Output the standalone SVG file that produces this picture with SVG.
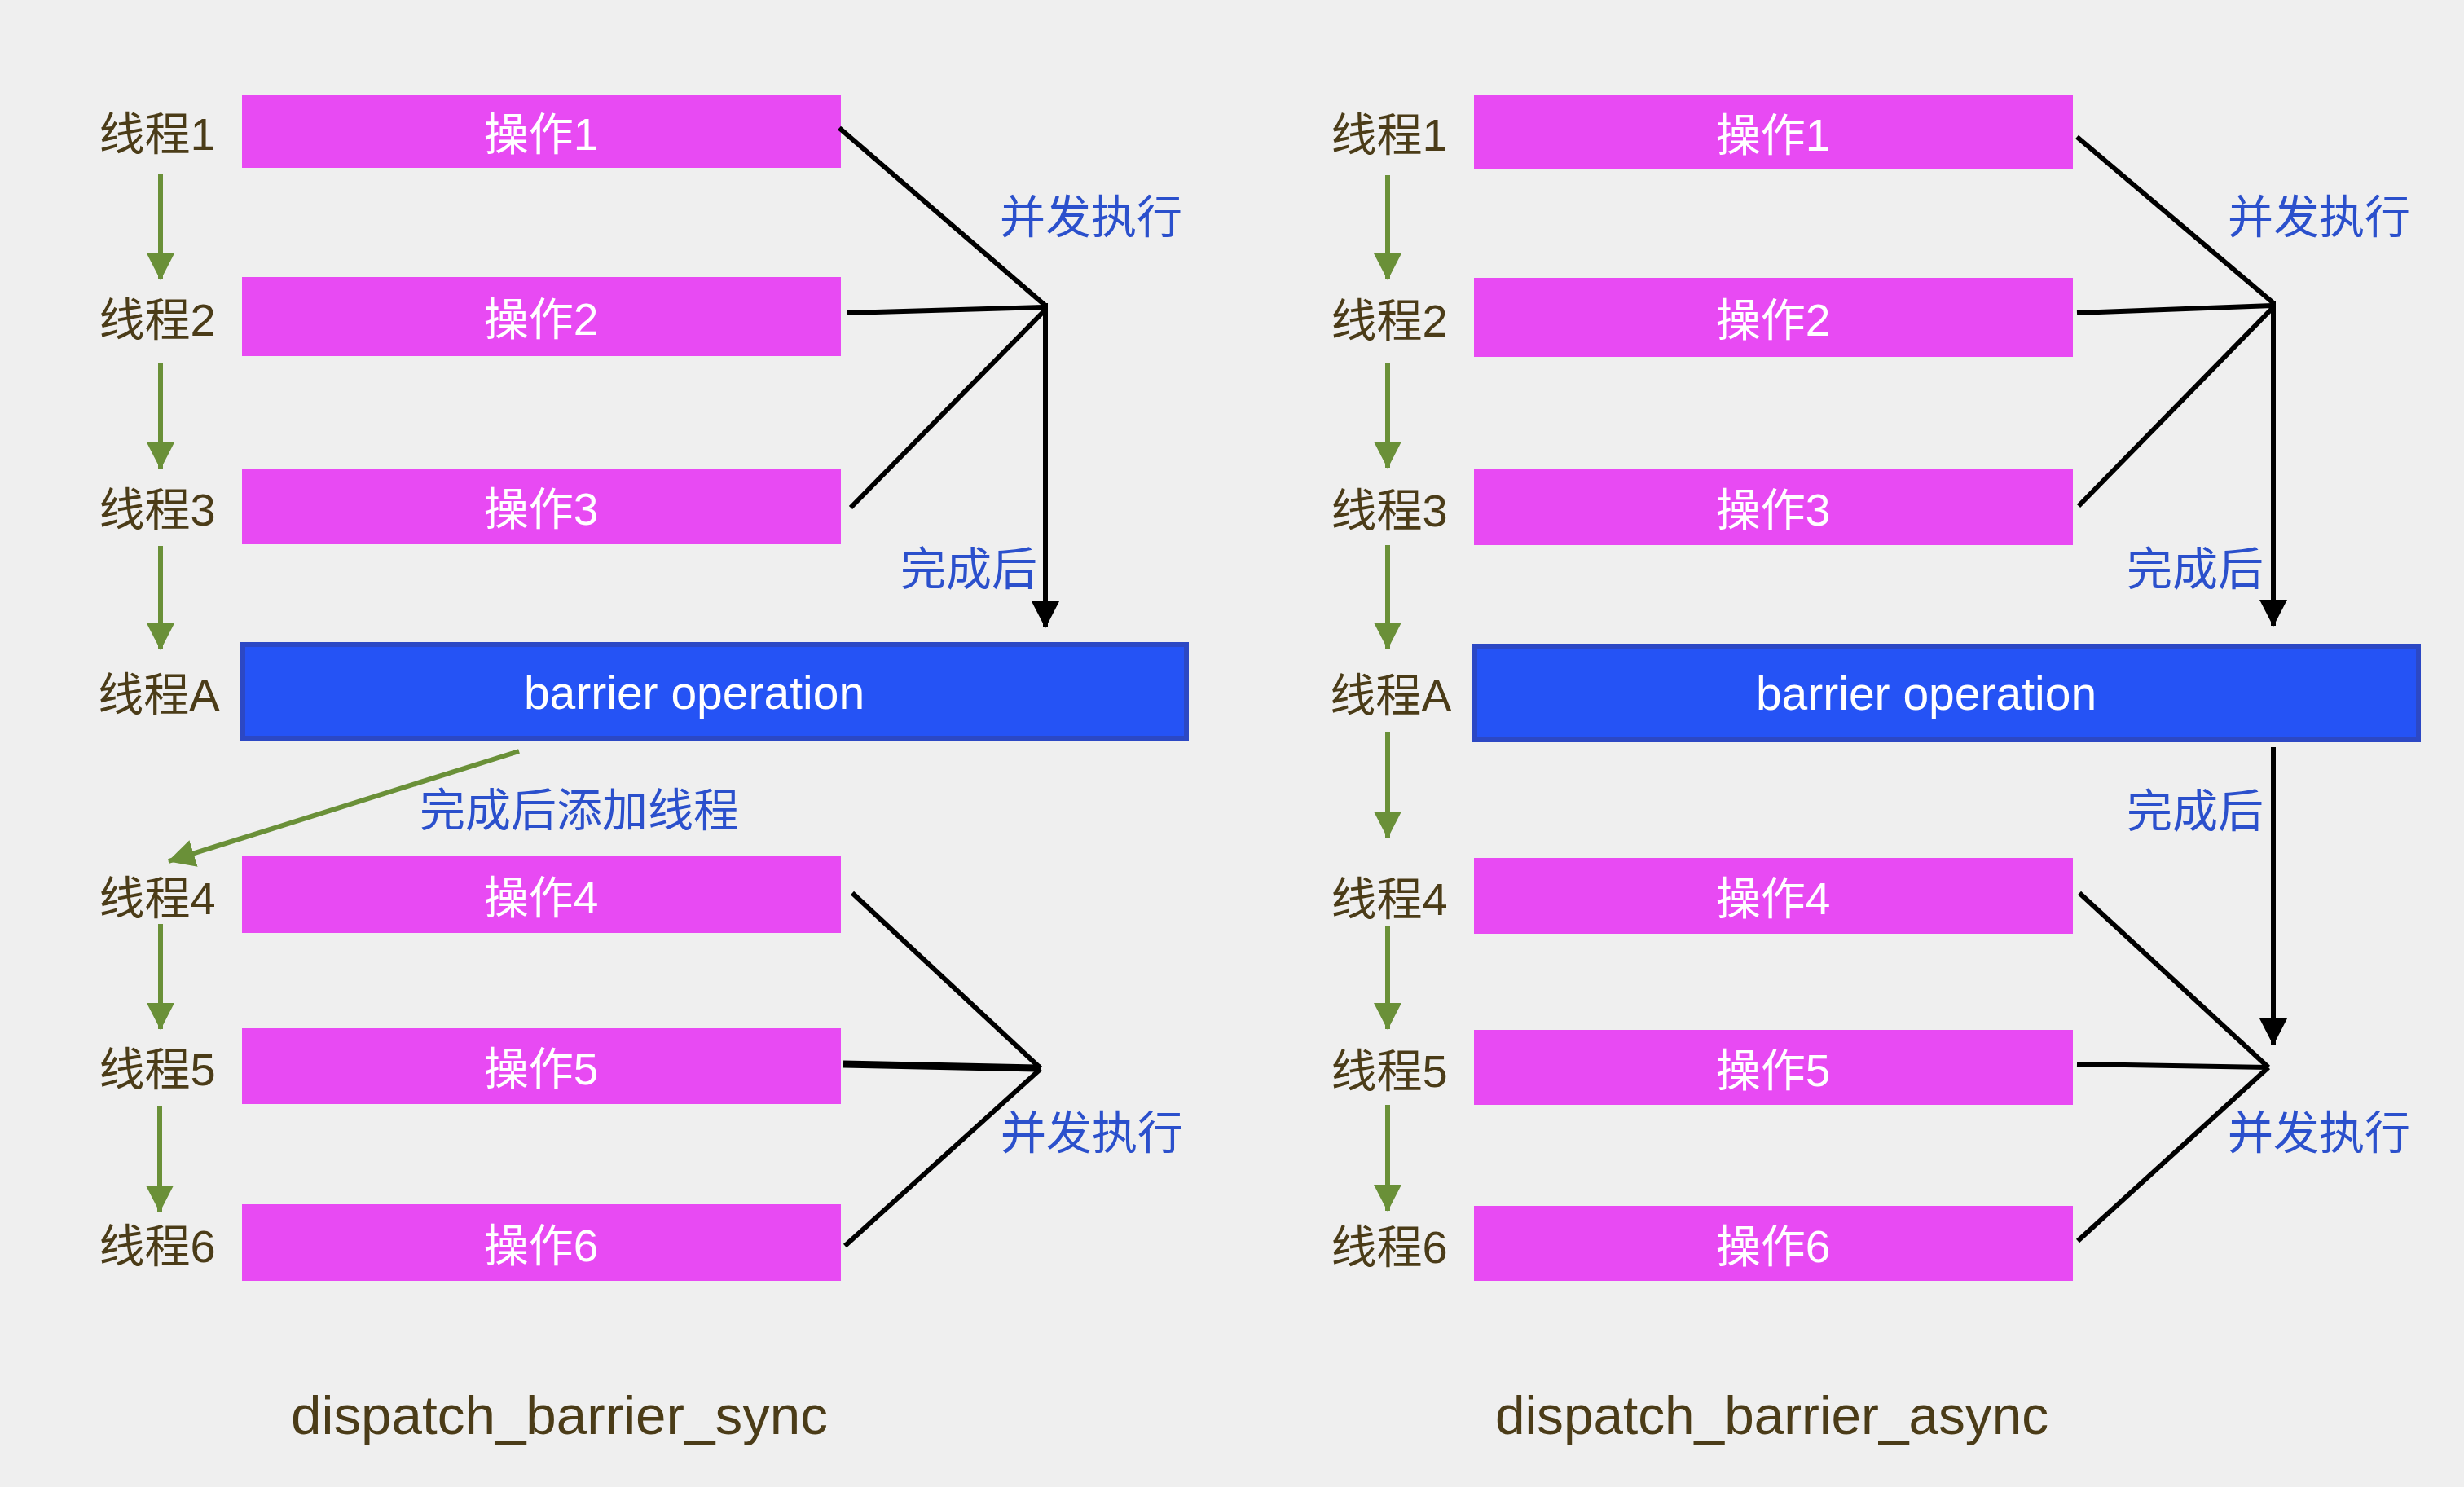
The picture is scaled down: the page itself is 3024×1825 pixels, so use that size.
<svg xmlns="http://www.w3.org/2000/svg" width="3024" height="1825" viewBox="0 0 3024 1825">
<style>
.bg{fill:#efefef}
.op{fill:#e84af3}
.bar{fill:#2553f5;stroke:#2c48c4;stroke-width:6}
.th{font-family:"Liberation Sans","Noto Sans CJK SC",sans-serif;font-size:56px;fill:#4b3c18;text-anchor:middle;dominant-baseline:central}
.opt{font-family:"Liberation Sans","Noto Sans CJK SC",sans-serif;font-size:55px;fill:#ffffff;text-anchor:middle;dominant-baseline:central}
.bt{font-family:"Liberation Sans",Arial,sans-serif;font-size:57px;fill:#ffffff;text-anchor:middle}
.lbl{font-family:"Noto Sans CJK SC","Noto Sans",sans-serif;font-size:56px;fill:#2b50cc;text-anchor:middle;dominant-baseline:central}
.title{font-family:"Liberation Sans",Arial,sans-serif;font-size:66px;fill:#4b3c18}
.g{stroke:#6a9038;stroke-width:6;fill:none}
.k{stroke:#000;stroke-width:6;fill:none;stroke-linecap:butt}
.gh{fill:#6a9038}
.kh{fill:#000}
</style>
<defs>
<marker id="ga" markerUnits="userSpaceOnUse" markerWidth="34" markerHeight="34" viewBox="0 0 34 34" refX="32" refY="17" orient="auto">
<path d="M0,0 L33,17 L0,34 Z" class="gh"/>
</marker>
<marker id="ka" markerUnits="userSpaceOnUse" markerWidth="34" markerHeight="34" viewBox="0 0 34 34" refX="32" refY="17" orient="auto">
<path d="M0,0 L33,17 L0,34 Z" class="kh"/>
</marker>
</defs>
<rect class="bg" x="0" y="0" width="3024" height="1825"/>

<!-- Left panel: dispatch_barrier_sync -->
<g id="L-t1"><text class="th" x="193" y="164">线程1</text></g>
<g id="L-t2"><text class="th" x="193" y="392">线程2</text></g>
<g id="L-t3"><text class="th" x="193" y="625">线程3</text></g>
<g id="L-tA"><text class="th" x="195" y="852">线程A</text></g>
<g id="L-t4"><text class="th" x="193" y="1102">线程4</text></g>
<g id="L-t5"><text class="th" x="193" y="1312">线程5</text></g>
<g id="L-t6"><text class="th" x="193" y="1529">线程6</text></g>

<g id="L-op1"><rect class="op" x="297" y="116" width="735" height="90"/><text class="opt" x="664" y="165">操作1</text></g>
<g id="L-op2"><rect class="op" x="297" y="340" width="735" height="97"/><text class="opt" x="664" y="392">操作2</text></g>
<g id="L-op3"><rect class="op" x="297" y="575" width="735" height="93"/><text class="opt" x="664" y="625">操作3</text></g>
<g id="L-barrier"><rect class="bar" x="298" y="791" width="1158" height="115"/><text class="bt" x="852" y="870">barrier operation</text></g>
<g id="L-op4"><rect class="op" x="297" y="1051" width="735" height="94"/><text class="opt" x="664" y="1102">操作4</text></g>
<g id="L-op5"><rect class="op" x="297" y="1262" width="735" height="93"/><text class="opt" x="664" y="1312">操作5</text></g>
<g id="L-op6"><rect class="op" x="297" y="1478" width="735" height="94"/><text class="opt" x="664" y="1529">操作6</text></g>

<g id="L-labels">
<text class="lbl" x="1339" y="261">并发执行</text>
<text class="lbl" x="1189" y="693">完成后</text>
<text class="lbl" x="711" y="989">完成后添加线程</text>
<text class="lbl" x="1340" y="1385">并发执行</text>
</g>
<g id="L-title"><text class="title" x="357" y="1760" textLength="659" lengthAdjust="spacingAndGlyphs">dispatch_barrier_sync</text></g>

<!-- Right panel: dispatch_barrier_async -->
<g id="R-t1"><text class="th" x="1705" y="165">线程1</text></g>
<g id="R-t2"><text class="th" x="1705" y="393">线程2</text></g>
<g id="R-t3"><text class="th" x="1705" y="626">线程3</text></g>
<g id="R-tA"><text class="th" x="1707" y="853">线程A</text></g>
<g id="R-t4"><text class="th" x="1705" y="1103">线程4</text></g>
<g id="R-t5"><text class="th" x="1705" y="1314">线程5</text></g>
<g id="R-t6"><text class="th" x="1705" y="1530">线程6</text></g>

<g id="R-op1"><rect class="op" x="1809" y="117" width="735" height="90"/><text class="opt" x="2176" y="166">操作1</text></g>
<g id="R-op2"><rect class="op" x="1809" y="341" width="735" height="97"/><text class="opt" x="2176" y="393">操作2</text></g>
<g id="R-op3"><rect class="op" x="1809" y="576" width="735" height="93"/><text class="opt" x="2176" y="626">操作3</text></g>
<g id="R-barrier"><rect class="bar" x="1810" y="793" width="1158" height="115"/><text class="bt" x="2364" y="871">barrier operation</text></g>
<g id="R-op4"><rect class="op" x="1809" y="1053" width="735" height="93"/><text class="opt" x="2176" y="1103">操作4</text></g>
<g id="R-op5"><rect class="op" x="1809" y="1264" width="735" height="92"/><text class="opt" x="2176" y="1314">操作5</text></g>
<g id="R-op6"><rect class="op" x="1809" y="1480" width="735" height="92"/><text class="opt" x="2176" y="1530">操作6</text></g>

<g id="R-labels">
<text class="lbl" x="2846" y="261">并发执行</text>
<text class="lbl" x="2694" y="693">完成后</text>
<text class="lbl" x="2694" y="990">完成后</text>
<text class="lbl" x="2846" y="1385">并发执行</text>
</g>
<g id="R-title"><text class="title" x="1835" y="1760" textLength="679" lengthAdjust="spacingAndGlyphs">dispatch_barrier_async</text></g>

<!-- Connectors -->
<g id="connectors">
<!-- left green thread flow -->
<line class="g" x1="197" y1="214" x2="197" y2="343" marker-end="url(#ga)"/>
<line class="g" x1="197" y1="445" x2="197" y2="575" marker-end="url(#ga)"/>
<line class="g" x1="197" y1="670" x2="197" y2="797" marker-end="url(#ga)"/>
<line class="g" x1="637" y1="922" x2="207" y2="1057" marker-end="url(#ga)"/>
<line class="g" x1="197" y1="1134" x2="197" y2="1263" marker-end="url(#ga)"/>
<line class="g" x1="196" y1="1357" x2="196" y2="1487" marker-end="url(#ga)"/>
<!-- left black -->
<line class="k" x1="1030" y1="157" x2="1283" y2="375"/>
<line class="k" x1="1040" y1="384" x2="1283" y2="377"/>
<line class="k" x1="1044" y1="623" x2="1283" y2="380"/>
<line class="k" x1="1283" y1="372" x2="1283" y2="770" marker-end="url(#ka)"/>
<line class="k" x1="1046" y1="1096" x2="1277" y2="1311"/>
<line class="k" x1="1035" y1="1306" x2="1277" y2="1311" style="stroke-width:9"/>
<line class="k" x1="1037" y1="1529" x2="1277" y2="1312"/>
<!-- right green thread flow -->
<line class="g" x1="1703" y1="215" x2="1703" y2="343" marker-end="url(#ga)"/>
<line class="g" x1="1703" y1="445" x2="1703" y2="574" marker-end="url(#ga)"/>
<line class="g" x1="1703" y1="669" x2="1703" y2="796" marker-end="url(#ga)"/>
<line class="g" x1="1703" y1="898" x2="1703" y2="1028" marker-end="url(#ga)"/>
<line class="g" x1="1703" y1="1136" x2="1703" y2="1263" marker-end="url(#ga)"/>
<line class="g" x1="1703" y1="1356" x2="1703" y2="1486" marker-end="url(#ga)"/>
<!-- right black -->
<line class="k" x1="2549" y1="168" x2="2789" y2="371"/>
<line class="k" x1="2549" y1="384" x2="2789" y2="375"/>
<line class="k" x1="2551" y1="621" x2="2789" y2="378"/>
<line class="k" x1="2790" y1="369" x2="2790" y2="768" marker-end="url(#ka)"/>
<line class="k" x1="2790" y1="917" x2="2790" y2="1282" marker-end="url(#ka)"/>
<line class="k" x1="2552" y1="1096" x2="2784" y2="1310"/>
<line class="k" x1="2549" y1="1306" x2="2784" y2="1310"/>
<line class="k" x1="2550" y1="1523" x2="2784" y2="1310"/>
</g>
</svg>
